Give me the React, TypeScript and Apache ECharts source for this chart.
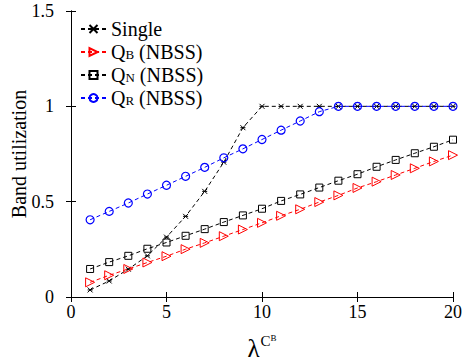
import React, { useEffect, useRef } from "react";
import * as echarts from "echarts";

const xValues = [1, 2, 3, 4, 5, 6, 7, 8, 9, 10, 11, 12, 13, 14, 15, 16, 17, 18, 19, 20];
const single = [0.037, 0.084, 0.146, 0.216, 0.314, 0.423, 0.554, 0.707, 0.888, 1.0, 1.0, 1.0, 1.0, 1.0, 1.0, 1.0, 1.0, 1.0, 1.0, 1.0];
const qB = [0.077, 0.114, 0.147, 0.181, 0.214, 0.251, 0.284, 0.319, 0.354, 0.389, 0.426, 0.46, 0.498, 0.533, 0.572, 0.605, 0.64, 0.675, 0.711, 0.744];
const qN = [0.147, 0.183, 0.216, 0.253, 0.286, 0.321, 0.356, 0.393, 0.428, 0.463, 0.504, 0.538, 0.574, 0.61, 0.644, 0.683, 0.719, 0.754, 0.788, 0.825];
const qR = [0.405, 0.449, 0.493, 0.54, 0.586, 0.633, 0.68, 0.73, 0.777, 0.826, 0.875, 0.923, 0.972, 1.0, 1.0, 1.0, 1.0, 1.0, 1.0, 1.0];
const xTicks = [0, 5, 10, 15, 20];
const yTicks = [0, 0.5, 1, 1.5];

const FONT = "Liberation Serif";

const legendLabels: Record<string, string> = {
  Single: "{a|Single}",
  "Q_B (NBSS)": "{a|Q}{b|B}{a| (NBSS)}",
  "Q_N (NBSS)": "{a|Q}{b|N}{a| (NBSS)}",
  "Q_R (NBSS)": "{a|Q}{b|R}{a| (NBSS)}",
};

function pairs(vals: number[]) {
  return xValues.map((x, i) => [x, vals[i]]);
}

export default function App() {
  const ref = useRef<HTMLDivElement>(null);
  useEffect(() => {
    if (!ref.current) return;
    const chart = echarts.init(ref.current, undefined, { renderer: "svg" });
    const dash = [4, 3];
    const axisCommon = {
      axisLine: { show: true, lineStyle: { color: "#000", width: 1 } },
      axisTick: { show: true, inside: true, length: 5, lineStyle: { color: "#000" } },
      splitLine: { show: false },
    };
    chart.setOption({
      animation: false,
      backgroundColor: "#fff",
      grid: { left: 71, right: 12, top: 11, bottom: 64, containLabel: false, outerBoundsMode: "none" },
      legend: {
        orient: "vertical",
        left: 80,
        top: 19,
        itemWidth: 25,
        itemHeight: 10,
        itemGap: 3,
        padding: 0,
        textStyle: {
          fontFamily: FONT,
          color: "#000",
          rich: {
            a: { fontFamily: FONT, fontSize: 20, color: "#000", lineHeight: 20 },
            b: { fontFamily: FONT, fontSize: 13, color: "#000", lineHeight: 20, padding: [4, 0, 0, 0] },
          },
        },
        formatter: (name: string) => legendLabels[name] || name,
        data: ["Single", "Q_B (NBSS)", "Q_N (NBSS)", "Q_R (NBSS)"],
      },
      xAxis: [
        {
          type: "value",
          min: 0,
          max: 20,
          interval: 5,
          position: "bottom",
          ...axisCommon,
          axisLabel: {
            fontFamily: FONT,
            fontSize: 18,
            color: "#000",
            margin: 6,
            formatter: (v: number) => (xTicks.includes(v) ? String(v) : ""),
          },
          name: "{l|λ}{c|C}{s|B}",
          nameLocation: "middle",
          nameGap: 36,
          nameMoveOverlap: false,
          nameTextStyle: {
            rich: {
              l: { fontFamily: FONT, fontSize: 25, color: "#000", verticalAlign: "bottom", lineHeight: 28 },
              c: { fontFamily: FONT, fontSize: 15, color: "#000", verticalAlign: "top", lineHeight: 28, padding: [0, 0, 12, 1] },
              s: { fontFamily: FONT, fontSize: 9, color: "#000", verticalAlign: "top", lineHeight: 28, padding: [0, 0, 6, 0] },
            },
          },
        },
        {
          type: "value",
          min: 0,
          max: 20,
          interval: 5,
          position: "top",
          ...axisCommon,
          axisLabel: { show: false },
        },
      ],
      yAxis: [
        {
          type: "value",
          min: 0,
          max: 1.5,
          interval: 0.5,
          position: "left",
          ...axisCommon,
          axisLabel: {
            fontFamily: FONT,
            fontSize: 18,
            color: "#000",
            margin: 17,
            formatter: (v: number) => (yTicks.includes(v) ? String(v) : ""),
          },
          name: "Band utilization",
          nameLocation: "middle",
          nameGap: 42,
          nameMoveOverlap: false,
          nameTextStyle: { fontFamily: FONT, fontSize: 20, color: "#000" },
        },
        {
          type: "value",
          min: 0,
          max: 1.5,
          interval: 0.5,
          position: "right",
          ...axisCommon,
          axisLabel: { show: false },
        },
      ],
      series: [
        {
          name: "Single",
          type: "line",
          data: pairs(single),
          symbol: "path://M0,0L10,10M10,0L0,10M0,5L10,5",
          symbolSize: 5,
          lineStyle: { color: "#000", width: 1, type: dash },
          itemStyle: { color: "#000", borderColor: "#000", borderWidth: 1 },
          z: 2,
        },
        {
          name: "Q_B (NBSS)",
          type: "line",
          data: pairs(qB),
          symbol: "triangle",
          symbolRotate: -90,
          symbolSize: 9,
          lineStyle: { color: "#ff0000", width: 1, type: dash },
          itemStyle: { color: "rgba(0,0,0,0)", borderColor: "#ff0000", borderWidth: 1 },
          z: 3,
        },
        {
          name: "Q_N (NBSS)",
          type: "line",
          data: pairs(qN),
          symbol: "rect",
          symbolSize: 7,
          lineStyle: { color: "#000", width: 1, type: dash },
          itemStyle: { color: "rgba(0,0,0,0)", borderColor: "#000", borderWidth: 1 },
          z: 3,
        },
        {
          name: "Q_R (NBSS)",
          type: "line",
          data: pairs(qR),
          symbol: "circle",
          symbolSize: 8,
          lineStyle: { color: "#0000ff", width: 1, type: dash },
          itemStyle: { color: "rgba(0,0,0,0)", borderColor: "#0000ff", borderWidth: 1.2 },
          z: 3,
        },
      ],
    });
    return () => chart.dispose();
  }, []);
  return <div ref={ref} style={{ width: 465, height: 361, position: "absolute", left: 0, top: 0 }} />;
}
